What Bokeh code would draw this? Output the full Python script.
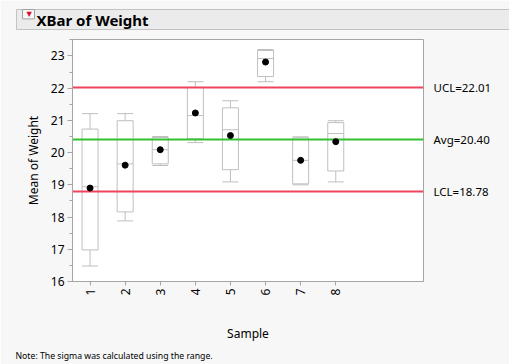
from bokeh.plotting import figure
from bokeh.models import (LinearAxis, FixedTicker, SingleIntervalTicker, Range1d, Title)
from bokeh.embed import file_html
from bokeh.resources import INLINE

# ---- data ----
samples = [1, 2, 3, 4, 5, 6, 7, 8]
sample_labels = ["1", "2", "3", "4", "5", "6", "7", "8"]
means = [18.90, 19.61, 20.09, 21.23, 20.53, 22.81, 19.76, 20.34]
mins = [16.48, 17.88, 19.60, 20.31, 19.09, 22.20, 19.00, 19.09]
q1s = [16.98, 18.16, 19.65, 20.43, 19.47, 22.36, 19.03, 19.43]
medians = [18.94, 19.65, 20.09, 21.15, 20.71, 22.92, 19.76, 20.59]
q3s = [20.73, 20.99, 20.47, 22.02, 21.39, 23.17, 20.46, 20.93]
maxs = [21.21, 21.21, 20.50, 22.20, 21.61, 23.20, 20.49, 20.99]
ucl = 22.01
avg = 20.40
lcl = 18.78
limit_names = ["UCL", "Avg", "LCL"]
limit_values = [ucl, avg, lcl]

title_text = "XBar of Weight"
y_title = "Mean of Weight"
x_title = "Sample"
note_text = "Note: The sigma was calculated using the range."

FONT = "Noto Sans"
W, H = 509, 364
GRAY = "#bfbfbf"
AXIS_GRAY = "#a6a6a6"

p = figure(width=W, height=H, output_backend="svg", toolbar_location=None,
           x_range=Range1d(0.5, 10.5), y_range=Range1d(16, 23.51),
           min_border_left=72, min_border_right=86, min_border_top=39,
           min_border_bottom=83, title=None)
p.border_fill_color = "#f7f7f7"
p.background_fill_color = "white"
p.outline_line_color = AXIS_GRAY
p.xgrid.visible = False
p.ygrid.visible = False

# whiskers, boxes, medians, caps
p.segment(x0=samples, y0=mins, x1=samples, y1=maxs, line_color=GRAY, line_width=1)
p.vbar(x=samples, bottom=q1s, top=q3s, width=0.456, fill_color="white",
       line_color=GRAY, line_width=1)
p.scatter(x=samples, y=medians, marker="dash", size=16, line_color=GRAY, line_width=1)
p.scatter(x=samples, y=mins, marker="dash", size=16, line_color=GRAY, line_width=1)
p.scatter(x=samples, y=maxs, marker="dash", size=16, line_color=GRAY, line_width=1)

# control limits
p.hspan(y=[ucl, lcl], line_color="#f0435c", line_width=2)
p.hspan(y=[avg], line_color="#33c033", line_width=2)

# means
p.scatter(x=samples, y=means, size=6, fill_color="black", line_color="black")

# axes
xa = p.xaxis[0]
xa.ticker = FixedTicker(ticks=samples)
xa.major_label_overrides = {s: l for s, l in zip(samples, sample_labels)}
xa.major_label_orientation = 3.14159265 / 2
xa.axis_label = x_title
xa.axis_label_standoff = 27
xa.major_label_standoff = 3
xa.major_tick_out = 4
xa.major_tick_in = 0
xa.minor_tick_out = 0
xa.minor_tick_in = 0

ya = p.yaxis[0]
ya.ticker = SingleIntervalTicker(interval=1, num_minor_ticks=2)
ya.axis_label = y_title
ya.axis_label_standoff = 6
ya.major_label_standoff = 3
ya.major_tick_out = 5
ya.major_tick_in = 0
ya.minor_tick_out = 3
ya.minor_tick_in = 0

for ax in (xa, ya):
    ax.axis_line_color = AXIS_GRAY
    ax.major_tick_line_color = AXIS_GRAY
    ax.minor_tick_line_color = AXIS_GRAY
    ax.major_label_text_font = FONT
    ax.major_label_text_font_size = "12px"
    ax.major_label_text_color = "black"
    ax.axis_label_text_font = FONT
    ax.axis_label_text_font_size = "12px"
    ax.axis_label_text_font_style = "normal"
    ax.axis_label_text_color = "black"

ra = LinearAxis(ticker=FixedTicker(ticks=limit_values),
                major_label_overrides={v: f"{n}={v:.2f}" for n, v in zip(limit_names, limit_values)},
                axis_line_color=None, major_tick_line_color=None,
                minor_tick_line_color=None, major_label_standoff=4,
                major_label_text_font=FONT, major_label_text_font_size="11.5px",
                major_label_text_color="black")
p.add_layout(ra, "right")

# header bar with the bold title
p.add_layout(Title(text=title_text, align="left", offset=-56, standoff=16,
                   vertical_align="top",
                   text_font=FONT, text_font_size="15px", text_font_style="bold",
                   text_color="black", background_fill_color="#ebebeb",
                   border_line_color="#c2c2c2",
                   padding=dict(left=20, right=370, top=0, bottom=0)), "above")

# red menu button, placed in the left margin panel
p.add_layout(Title(text="\u25c0", align="right", offset=-30, standoff=-26,
                   vertical_align="bottom",
                   text_font="DejaVu Sans", text_font_size="7px", text_color="#d8102a",
                   background_fill_color="#f8f8f8", border_line_color="#a0a0a0",
                   padding=dict(left=2, right=2, top=2, bottom=2)), "left")

# footnote
p.add_layout(Title(text=note_text, align="left", offset=-57, standoff=5,
                   text_font=FONT, text_font_size="8.7px", text_font_style="normal",
                   text_color="black"), "below")

open("out.html", "w").write(file_html(p, INLINE))
